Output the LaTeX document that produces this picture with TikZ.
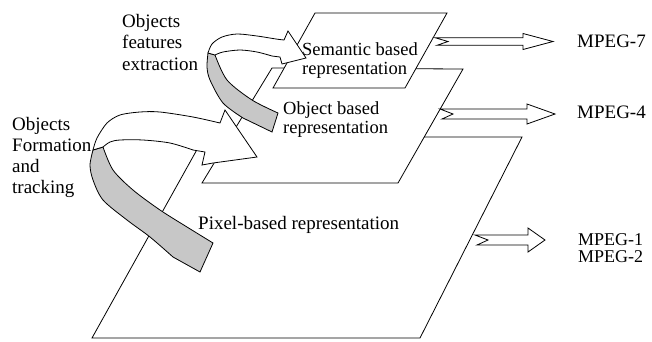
\documentclass[tikz,border=0pt]{standalone}
\usepackage{fontspec}
\setmainfont{Liberation Serif}
\usepackage{tikz}

\newcommand{\mpegarrow}[5]{%
	\draw[hollow] (#1) ++(0,-#4) -- ++({#2-#3},0) -- ++(0,{#4-#5}) -- ++(#3,#5) -- ++(-#3,#5) -- ++(0,{#4-#5}) -- ++({#3-#2+2},0) -- ++(11,-#4) -- cycle;}

\begin{document}
\begin{tikzpicture}[x=1pt,y=-1pt,
		lbl/.style={inner sep=0pt,anchor=base west,align=left,font=\fontsize{19}{21.5}\selectfont},
		tight/.style={font=\fontsize{18.5}{19}\selectfont},
		plane/.style={draw=black,fill=white,line width=0.8pt},
		hollow/.style={draw=black,fill=white,line width=0.8pt},
		back/.style={draw=black,fill=black!22,line width=0.8pt},
		front/.style={draw=black,fill=white,line width=0.8pt}]
	\useasboundingbox (0,0) rectangle (652,341);
	\draw[plane] (204,137) -- (522,137) -- (420,338) -- (92,338) -- cycle;
	\draw[plane] (272,68) -- (463,69) -- (398,183) -- (202,183) -- cycle;
	\draw[plane] (315,13) -- (447,13) -- (405,88) -- (273,88) -- cycle;
	\node[lbl] (pix) at (198,229) {Pixel-based representation};
	\node[lbl,tight] (obj) at (283,133) {Object based\\representation};
	\node[lbl,tight] (sem) at (302,74) {Semantic based\\representation};
	\node[lbl] (feat) at (122,70) {Objects\\features\\extraction};
	\node[lbl,font=\fontsize{19}{20.7}\selectfont] (track) at (12,193) {Objects\\Formation\\and\\tracking};
	\node[lbl] (m7) at (577,47) {MPEG-7};
	\node[lbl] (m4) at (577,118) {MPEG-4};
	\node[lbl,font=\fontsize{18}{17}\selectfont] (m12) at (578,262) {MPEG-1\\MPEG-2};
	\coordinate (t7) at (435,41.5);
	\coordinate (t4) at (440,114);
	\coordinate (t12) at (475,240);
	\mpegarrow{t7}{118}{30}{3.8}{8}
	\mpegarrow{t4}{115}{28}{5}{10}
	\mpegarrow{t12}{70}{17}{5}{12}
	\draw[back] plot[smooth] coordinates {(103,147) (113,170) (133,190) (160,210) (187,227) (213,243)} -- (200,272)
		-- plot[smooth] coordinates {(173,257) (150,237) (127,220) (103,200) (93,180) (90,165) (93,150)} -- cycle;
	\draw[front] plot[smooth] coordinates {(93,150) (97,138) (107,123) (120,115) (140,112) (160,112) (193,117) (220,123)}
		-- (225,110) -- (257,157) -- (213,163) -- (202,165) -- (205,152)
		-- plot[smooth] coordinates {(193,150) (170,143) (143,140) (120,140) (110,142) (103,147)} -- cycle;
	\draw[back] plot[smooth] coordinates {(215,55) (227,80) (252,100) (278,113)} -- (272,132)
		-- plot[smooth] coordinates {(243,118) (223,103) (210,80) (207,67) (208,53)} -- cycle;
	\draw[front] plot[smooth] coordinates {(208,53) (212,44) (222,37) (237,34) (257,36) (276,39) (284,40)}
		-- (288,31) -- (306,58) -- (282,64) -- (280,57)
		-- plot[smooth] coordinates {(272,56) (257,52) (240,50) (223,52) (215,55)} -- cycle;
\end{tikzpicture}
\end{document}
